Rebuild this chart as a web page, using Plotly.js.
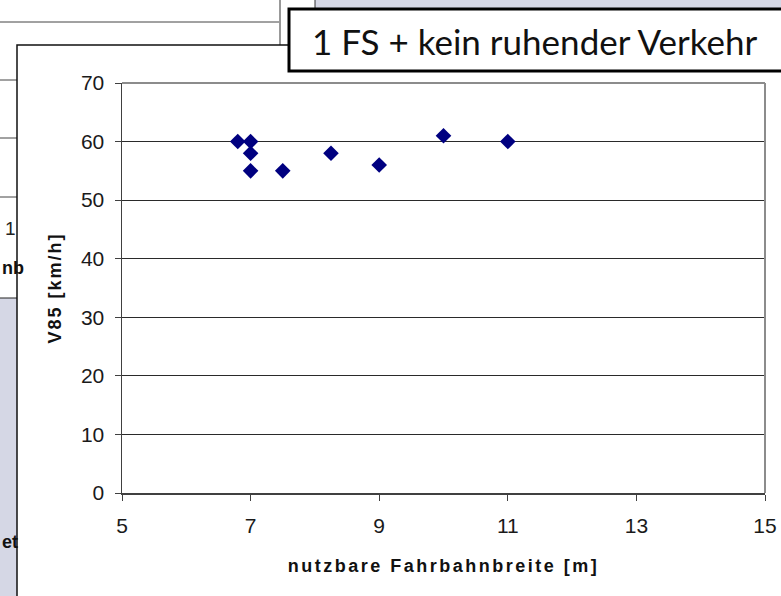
<!DOCTYPE html>
<html>
<head>
<meta charset="utf-8">
<script src="https://cdn.plot.ly/plotly-3.0.1.min.js"></script>
<style>html,body{margin:0;padding:0;background:#fff;}#chart{width:781px;height:596px;}</style>
</head>
<body>
<div id="chart"></div>
<script>
// Data: nutzbare Fahrbahnbreite [m] vs V85 [km/h]
const breite = [6.8, 7.0, 7.0, 7.0, 7.5, 8.25, 9.0, 10.0, 11.0];
const v85    = [60,  60,  58,  55,  55,  58,   56,  61,   60];
const xTicks = [5, 7, 9, 11, 13, 15];
const yTicks = [0, 10, 20, 30, 40, 50, 60, 70];
const titleText = "1 FS + kein ruhender Verkehr";
const xTitle = "nutzbare Fahrbahnbreite [m]";
const yTitle = "V85 [km/h]";

// pixel -> paper helpers (plot area 122..765 x 83..493)
const L = 122, R = 765, T = 83, B = 493;
const px = x => (x - L) / (R - L);
const py = y => (B - y) / (B - T);

const lav = "#d5d7e5";
const shapes = [
  // background chart remnants
  {type:"rect", layer:"below", xref:"paper", yref:"paper", x0:px(315), x1:px(820), y0:py(-10), y1:py(20), fillcolor:lav, line:{color:"#333", width:1}},
  {type:"line", layer:"below", xref:"paper", yref:"paper", x0:px(-5), x1:px(280), y0:py(22), y1:py(22), line:{color:"#444", width:1}},
  {type:"line", layer:"below", xref:"paper", yref:"paper", x0:px(-5), x1:px(20), y0:py(80), y1:py(80), line:{color:"#444", width:1}},
  {type:"line", layer:"below", xref:"paper", yref:"paper", x0:px(-5), x1:px(20), y0:py(138), y1:py(138), line:{color:"#444", width:1}},
  {type:"line", layer:"below", xref:"paper", yref:"paper", x0:px(-5), x1:px(20), y0:py(197), y1:py(197), line:{color:"#444", width:1}},
  {type:"line", layer:"below", xref:"paper", yref:"paper", x0:px(280), x1:px(280), y0:py(-5), y1:py(60), line:{color:"#999", width:2}},
  {type:"rect", layer:"below", xref:"paper", yref:"paper", x0:px(-10), x1:px(20), y0:py(298), y1:py(620), fillcolor:lav, line:{color:"#222", width:1}},
  // main chart frame
  {type:"rect", layer:"below", xref:"paper", yref:"paper", x0:px(17), x1:px(820), y0:py(45), y1:py(640), fillcolor:"#ffffff", line:{color:"#111", width:1.5}},
  // title box
  {type:"rect", layer:"below", xref:"paper", yref:"paper", x0:px(289), x1:px(830), y0:py(9), y1:py(71), fillcolor:"#ffffff", line:{color:"#000", width:3}},
  // plot area top/right border (gray)
  {type:"line", layer:"above", xref:"paper", yref:"paper", x0:0, x1:1, y0:1, y1:1, line:{color:"#8c8c8c", width:2}},
  {type:"line", layer:"above", xref:"paper", yref:"paper", x0:1, x1:1, y0:0, y1:1, line:{color:"#8c8c8c", width:2}}
];

const annotations = [
  {xref:"paper", yref:"paper", x:px(534), y:py(41), text:titleText, showarrow:false, xanchor:"center", yanchor:"middle",
   font:{family:"Lato, 'Open Sans', sans-serif", size:35, color:"#111"}},
  {xref:"paper", yref:"paper", x:px(18), y:py(228), text:"1", showarrow:false, xanchor:"right", yanchor:"middle",
   font:{family:"Liberation Sans, Arial", size:19, color:"#222"}},
  {xref:"paper", yref:"paper", x:px(0), y:py(268), text:"<b>nb</b>", showarrow:false, xanchor:"left", yanchor:"middle",
   font:{family:"Liberation Sans, Arial", size:18, color:"#111"}},
  {xref:"paper", yref:"paper", x:px(0), y:py(542), text:"<b>et</b>", showarrow:false, xanchor:"left", yanchor:"middle",
   font:{family:"Liberation Sans, Arial", size:18, color:"#111"}}
];

const trace = {
  type:"scatter", mode:"markers", x:breite, y:v85,
  marker:{symbol:"diamond", size:12, color:"#000080", line:{width:0}},
  hoverinfo:"x+y"
};

const spaced = (t, s) => '<span style="letter-spacing:' + s + 'px"><b>' + t + '</b></span>';

const layout = {
  width:781, height:596,
  margin:{l:L, r:781-R, t:T, b:596-B, pad:0},
  paper_bgcolor:"#ffffff", plot_bgcolor:"#ffffff",
  showlegend:false,
  font:{family:"Liberation Sans, Arial, sans-serif", color:"#222"},
  xaxis:{range:[5,15], tickvals:xTicks, ticktext:xTicks.map(String), showgrid:false, zeroline:false,
    showline:true, linecolor:"#404040", linewidth:1.5, ticks:"outside", ticklen:6, tickcolor:"#404040",
    tickfont:{size:21, color:"#1a1a1a"}, ticklabelstandoff:7,
    title:{text:spaced(xTitle, 2.5), font:{size:18, color:"#111"}, standoff:23}, automargin:false},
  yaxis:{range:[0,70], tickvals:yTicks, ticktext:yTicks.map(String), showgrid:true, gridcolor:"#2a2a2a", gridwidth:1,
    zeroline:false, showline:true, linecolor:"#404040", linewidth:1.5, ticks:"outside", ticklen:6, tickcolor:"#404040",
    tickfont:{size:21, color:"#1a1a1a"}, ticklabelstandoff:6,
    title:{text:spaced(yTitle, 2), font:{size:18, color:"#111"}, standoff:14}, automargin:false},
  shapes:shapes, annotations:annotations
};

Plotly.newPlot("chart", [trace], layout, {displayModeBar:false, staticPlot:true});
</script>
</body>
</html>
